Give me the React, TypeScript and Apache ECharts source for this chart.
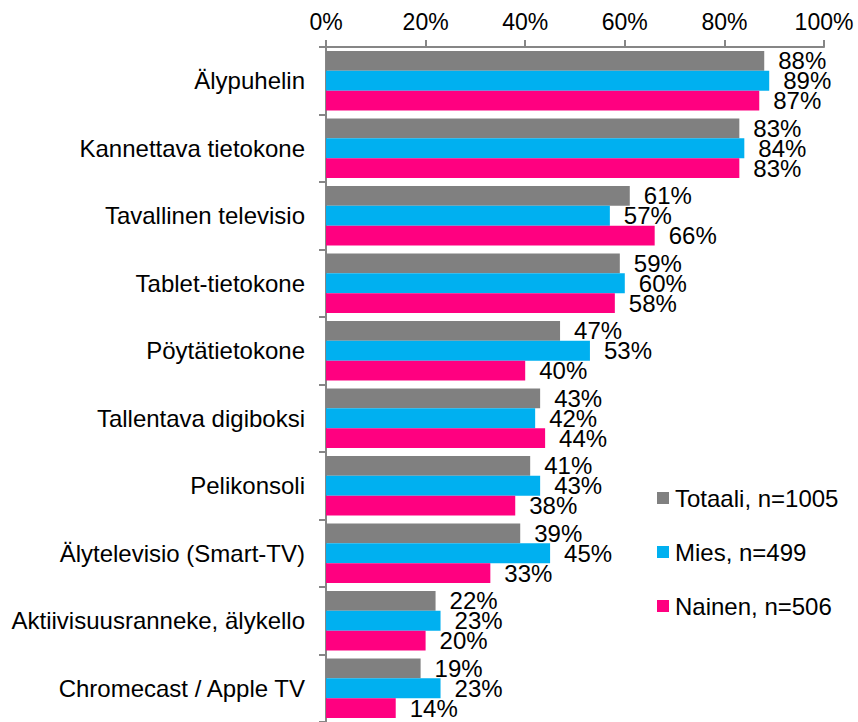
import React, { useEffect, useRef } from "react";
import * as echarts from "echarts";

const categories = [
  "Älypuhelin",
  "Kannettava tietokone",
  "Tavallinen televisio",
  "Tablet-tietokone",
  "Pöytätietokone",
  "Tallentava digiboksi",
  "Pelikonsoli",
  "Älytelevisio (Smart-TV)",
  "Aktiivisuusranneke, älykello",
  "Chromecast / Apple TV",
];
const totaali = [88, 83, 61, 59, 47, 43, 41, 39, 22, 19];
const mies = [89, 84, 57, 60, 53, 42, 43, 45, 23, 23];
const nainen = [87, 83, 66, 58, 40, 44, 38, 33, 20, 14];
const seriesNames = ["Totaali, n=1005", "Mies, n=499", "Nainen, n=506"];
const seriesColors = ["#808080", "#00B0F0", "#FF0080"];
const xTicks = [0, 20, 40, 60, 80, 100];

const FONT = "Liberation Sans, Arial, sans-serif";

export default function App() {
  const ref = useRef<HTMLDivElement>(null);
  useEffect(() => {
    if (!ref.current) return;
    const chart = echarts.init(ref.current, null, { renderer: "svg" });
    const data = [totaali, mies, nainen];
    chart.setOption({
      animation: false,
      backgroundColor: "#ffffff",
      textStyle: { fontFamily: FONT },
      grid: { left: 326, right: 34, top: 47, bottom: -5, containLabel: false },
      legend: {
        orient: "vertical",
        left: 652,
        top: 481,
        itemWidth: 12,
        itemHeight: 12,
        itemGap: 30,
        icon: "rect",
        textStyle: { fontSize: 24, color: "#000", fontFamily: FONT, padding: [0, 0, 0, 1] },
        data: seriesNames,
      },
      xAxis: {
        type: "value",
        position: "top",
        min: xTicks[0],
        max: xTicks[xTicks.length - 1],
        interval: 20,
        axisLine: { show: true, lineStyle: { color: "#868686", width: 2 } },
        axisTick: { show: true, length: 7, lineStyle: { color: "#868686", width: 2 } },
        splitLine: { show: false },
        axisLabel: {
          formatter: "{value}%",
          fontSize: 23,
          color: "#000",
          fontFamily: FONT,
          margin: 14,
        },
      },
      yAxis: {
        type: "category",
        inverse: true,
        data: categories,
        axisLine: { show: true, lineStyle: { color: "#868686", width: 2 } },
        axisTick: { show: true, length: 7, lineStyle: { color: "#868686", width: 2 } },
        axisLabel: { fontSize: 24, color: "#000", fontFamily: FONT, margin: 21 },
      },
      series: data.map((d, i) => ({
        type: "bar",
        name: seriesNames[i],
        data: d,
        barGap: "0%",
        barCategoryGap: "12%",
        itemStyle: { color: seriesColors[i] },
        label: {
          show: true,
          position: "right",
          distance: 14,
          formatter: "{c}%",
          fontSize: 24,
          color: "#000",
          fontFamily: FONT,
        },
      })),
    });
    return () => chart.dispose();
  }, []);
  return (
    <div
      ref={ref}
      style={{ position: "absolute", left: 0, top: 0, width: 858, height: 722 }}
    />
  );
}
